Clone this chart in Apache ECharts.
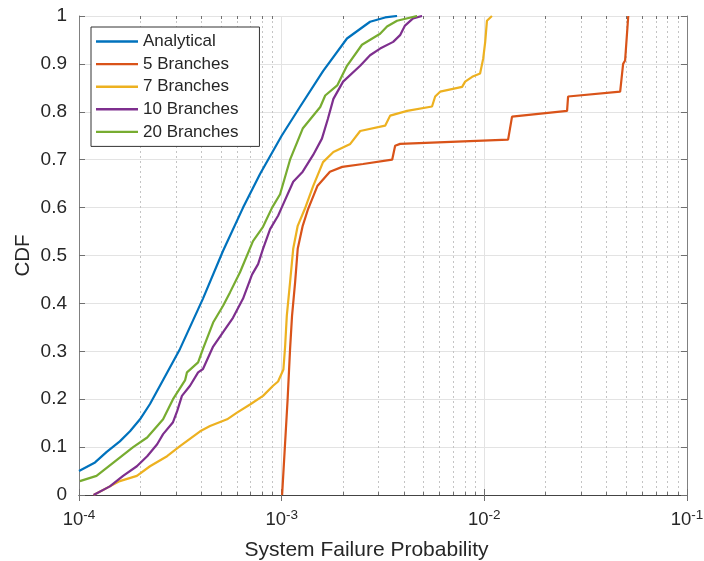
<!DOCTYPE html>
<html>
<head>
<meta charset="utf-8">
<script src="https://cdn.jsdelivr.net/npm/echarts@6/dist/echarts.min.js"></script>
<style>
html,body{margin:0;padding:0;background:#fff;}
#chart{width:704px;height:561px;}
</style>
</head>
<body>
<div id="chart"></div>
<script>
// ---- Data (x = system failure probability, y = CDF) ----
const seriesNames = ['Analytical', '5 Branches', '7 Branches', '10 Branches', '20 Branches'];
const seriesColors = ['#0072BD', '#D95319', '#EDB120', '#7E2F8E', '#77AC30'];

const analytical = [
  [1.0e-4,0.05],[1.2e-4,0.068],[1.37e-4,0.09],[1.59e-4,0.112],[1.785e-4,0.133],[2.0e-4,0.158],
  [2.24e-4,0.19],[2.6e-4,0.24],[3.15e-4,0.305],[4.09e-4,0.41],[5.14e-4,0.51],[6.45e-4,0.60],
  [7.82e-4,0.67],[1.0e-3,0.75],[1.23e-3,0.81],[1.6e-3,0.885],[2.1e-3,0.953],[2.73e-3,0.988],
  [3.24e-3,0.997],[3.71e-3,1.0]
];
const branches5 = [
  [1.005e-3,0],[1.07e-3,0.2],[1.10e-3,0.304],[1.125e-3,0.374],[1.165e-3,0.444],[1.20e-3,0.514],
  [1.27e-3,0.562],[1.35e-3,0.597],[1.50e-3,0.645],[1.73e-3,0.675],[1.99e-3,0.685],[2.52e-3,0.691],
  [3.51e-3,0.70],[3.63e-3,0.729],[3.84e-3,0.733],[1.31e-2,0.742],[1.37e-2,0.79],[2.56e-2,0.802],
  [2.59e-2,0.832],[4.68e-2,0.842],[4.84e-2,0.90],[4.95e-2,0.907],[5.13e-2,1.0]
];
const branches7 = [
  [1.18e-4,0],[1.42e-4,0.018],[1.59e-4,0.029],[1.93e-4,0.04],[2.24e-4,0.06],[2.72e-4,0.081],
  [3.15e-4,0.102],[3.96e-4,0.133],[4.43e-4,0.144],[5.38e-4,0.158],[6.02e-4,0.172],[6.98e-4,0.189],
  [8.09e-4,0.207],[9.07e-4,0.228],[9.6e-4,0.237],[1.02e-3,0.262],[1.04e-3,0.31],[1.06e-3,0.374],
  [1.10e-3,0.444],[1.14e-3,0.514],[1.20e-3,0.562],[1.30e-3,0.597],[1.43e-3,0.645],[1.60e-3,0.695],
  [1.80e-3,0.716],[2.18e-3,0.733],[2.44e-3,0.76],[3.24e-3,0.771],[3.43e-3,0.792],[4.16e-3,0.802],
  [5.52e-3,0.811],[5.72e-3,0.832],[6.05e-3,0.842],[7.77e-3,0.852],[8.04e-3,0.863],[8.71e-3,0.873],
  [9.53e-3,0.88],[9.87e-3,0.911],[1.01e-2,0.946],[1.03e-2,0.99],[1.09e-2,1.0]
];
const branches10 = [
  [1.18e-4,0],[1.42e-4,0.018],[1.65e-4,0.04],[1.93e-4,0.06],[2.17e-4,0.081],[2.43e-4,0.106],
  [2.6e-4,0.127],[2.91e-4,0.152],[3.05e-4,0.175],[3.22e-4,0.207],[3.53e-4,0.228],[3.87e-4,0.256],
  [4.09e-4,0.263],[4.59e-4,0.31],[5.14e-4,0.34],[5.75e-4,0.37],[6.45e-4,0.41],[7.14e-4,0.46],
  [7.65e-4,0.482],[8.09e-4,0.514],[8.77e-4,0.555],[9.6e-4,0.583],[1.0e-3,0.60],[1.14e-3,0.654],
  [1.27e-3,0.675],[1.43e-3,0.71],[1.58e-3,0.744],[1.69e-3,0.785],[1.80e-3,0.827],[2.01e-3,0.863],
  [2.44e-3,0.896],[2.73e-3,0.918],[3.06e-3,0.932],[3.55e-3,0.946],[3.84e-3,0.96],[4.06e-3,0.98],
  [4.45e-3,0.995],[4.93e-3,1.0]
];
const branches20 = [
  [1.01e-4,0.029],[1.22e-4,0.04],[1.85e-4,0.10],[2.17e-4,0.12],[2.6e-4,0.158],[2.91e-4,0.20],
  [3.34e-4,0.24],[3.41e-4,0.256],[3.87e-4,0.277],[4.09e-4,0.305],[4.59e-4,0.36],[5.14e-4,0.395],
  [5.56e-4,0.423],[6.23e-4,0.465],[7.22e-4,0.53],[8.09e-4,0.56],[8.97e-4,0.60],[9.82e-4,0.628],
  [1.10e-3,0.70],[1.27e-3,0.765],[1.55e-3,0.81],[1.64e-3,0.834],[1.88e-3,0.855],[2.10e-3,0.896],
  [2.49e-3,0.94],[3.06e-3,0.963],[3.31e-3,0.978],[3.71e-3,0.99],[4.66e-3,1.0]
];
const seriesData = [analytical, branches5, branches7, branches10, branches20];

// axis ticks
const xMin = 1e-4, xMax = 1e-1;
const yTicks = [0, 0.1, 0.2, 0.3, 0.4, 0.5, 0.6, 0.7, 0.8, 0.9, 1];
const minorX = [];
for (let e = -4; e < -1; e++) {
  for (let m = 2; m <= 9; m++) minorX.push([m * Math.pow(10, e), 0]);
}

const textColor = '#262626';
const font = 'Liberation Sans, Arial, Helvetica, sans-serif';

const chart = echarts.init(document.getElementById('chart'), null, {renderer: 'canvas'});

const lineSeries = seriesNames.map((name, i) => ({
  name: name,
  type: 'line',
  data: seriesData[i],
  showSymbol: false,
  symbol: 'none',
  smooth: false,
  lineStyle: {color: seriesColors[i], width: 2.2},
  itemStyle: {color: seriesColors[i]},
  z: 10 + i,
  animation: false
}));

const minorSeries = {
  type: 'custom',
  name: 'minor',
  silent: true,
  z: 1,
  animation: false,
  data: minorX,
  renderItem: function (params, api) {
    const v = api.value(0);
    const pb = api.coord([v, 0]);
    const pt = api.coord([v, 1]);
    const stroke = {stroke: '#c4c4c4', lineWidth: 1, lineDash: [2, 3]};
    const tick = {stroke: '#707070', lineWidth: 1};
    const x = Math.round(pb[0]) + 0.5;
    return {
      type: 'group',
      children: [
        {type: 'line', shape: {x1: x, y1: pt[1], x2: x, y2: pb[1]}, style: stroke},
        {type: 'line', shape: {x1: x, y1: pb[1], x2: x, y2: pb[1] - 3}, style: tick},
        {type: 'line', shape: {x1: x, y1: pt[1], x2: x, y2: pt[1] + 3}, style: tick}
      ]
    };
  }
};

const option = {
  backgroundColor: '#ffffff',
  animation: false,
  textStyle: {fontFamily: font},
  grid: {left: 79, right: 17, top: 16, bottom: 66, containLabel: false, outerBoundsMode: 'none'},
  legend: {
    data: seriesNames.map(n => ({name: n, icon: 'path://M0,0H42V2.4H0Z'})),
    orient: 'vertical',
    left: 91,
    top: 27,
    padding: [6, 21, 6, 5],
    itemWidth: 42,
    itemHeight: 16,
    itemGap: 5.6,
    symbolKeepAspect: true,
    backgroundColor: '#ffffff',
    borderColor: '#333333',
    borderWidth: 1,
    borderRadius: 0,
    textStyle: {color: textColor, fontSize: 17, fontFamily: font, lineHeight: 16},
    selectedMode: false
  },
  xAxis: [
    {
      type: 'log',
      logBase: 10,
      min: xMin,
      max: xMax,
      name: 'System Failure Probability',
      nameLocation: 'middle',
      nameGap: 45,
      nameMoveOverlap: false,
      nameTextStyle: {color: textColor, fontSize: 21, fontFamily: font, padding: [0, 33, 0, 0]},
      axisLine: {show: true, lineStyle: {color: '#808080', width: 1}},
      axisTick: {show: true, inside: true, length: 6, lineStyle: {color: '#707070'}},
      minorTick: {show: false},
      splitLine: {show: true, lineStyle: {color: '#e3e3e3', width: 1}},
      axisLabel: {
        margin: 13,
        formatter: function (v) {
          const e = Math.round(Math.log10(v));
          return '{b|10}{s|' + e + '}';
        },
        rich: {
          b: {fontSize: 18.5, color: textColor, fontFamily: font},
          s: {fontSize: 13.5, color: textColor, fontFamily: font, padding: [0, 0, 9, 0]}
        }
      }
    },
    {
      type: 'log',
      logBase: 10,
      position: 'top',
      min: xMin,
      max: xMax,
      axisLine: {show: true, lineStyle: {color: '#444444', width: 1}},
      axisTick: {show: true, inside: true, length: 6, lineStyle: {color: '#707070'}},
      axisLabel: {show: false},
      splitLine: {show: false}
    }
  ],
  yAxis: [
    {
      type: 'value',
      min: 0,
      max: 1,
      interval: 0.1,
      name: 'CDF',
      nameLocation: 'middle',
      nameGap: 45,
      nameMoveOverlap: false,
      nameTextStyle: {color: textColor, fontSize: 20.5, fontFamily: font},
      axisLine: {show: true, lineStyle: {color: '#808080', width: 1}},
      axisTick: {show: true, inside: true, length: 6, lineStyle: {color: '#707070'}},
      splitLine: {show: true, lineStyle: {color: '#e3e3e3', width: 1}},
      axisLabel: {
        margin: 12,
        color: textColor,
        fontSize: 19,
        fontFamily: font,
        formatter: function (v) { return String(parseFloat(v.toFixed(1))); }
      }
    },
    {
      type: 'value',
      position: 'right',
      min: 0,
      max: 1,
      interval: 0.1,
      axisLine: {show: true, lineStyle: {color: '#808080', width: 1}},
      axisTick: {show: true, inside: true, length: 6, lineStyle: {color: '#707070'}},
      axisLabel: {show: false},
      splitLine: {show: false}
    }
  ],
  series: [minorSeries].concat(lineSeries)
};

chart.setOption(option);
</script>
</body>
</html>
